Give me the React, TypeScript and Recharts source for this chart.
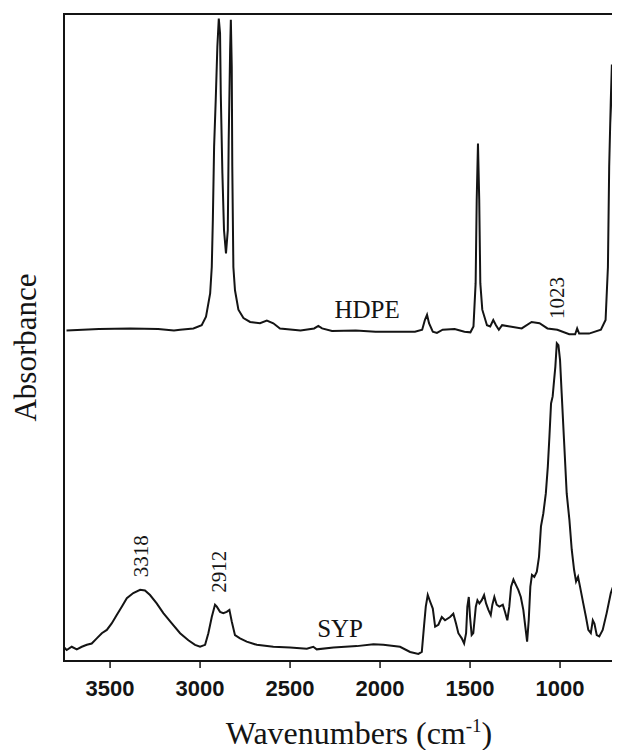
import {
  LineChart,
  Line,
  XAxis,
  YAxis,
  ReferenceArea,
  ReferenceDot,
} from "recharts";

// FTIR spectra, wavenumbers in cm-1, absorbance in arbitrary units (offset stacked)
const hdpeWn = [
  3742, 3562, 3387, 3233, 3145, 3111, 3037, 2991, 2967, 2944, 2935, 2929, 2922, 2913, 2904, 2896,
  2889, 2885, 2876, 2867, 2856, 2846, 2841, 2833, 2829, 2824, 2821, 2815, 2806, 2787, 2759, 2722,
  2667, 2629, 2593, 2556, 2442, 2366, 2343, 2322, 2267, 2135, 2025, 1915, 1806, 1766, 1751, 1739,
  1728, 1707, 1684, 1652, 1586, 1531, 1498, 1481, 1469, 1463, 1456, 1449, 1443, 1432, 1406, 1388,
  1371, 1356, 1340, 1322, 1278, 1213, 1158, 1114, 1070, 1015, 949, 916, 905, 894, 839, 773, 747,
  734, 727, 718, 712, 703, 696, 690,
];
const hdpeAbs = [
  51.1, 51.3, 51.4, 51.3, 51.1, 51.2, 51.4, 51.9, 53.2, 56.8, 60.9, 68.2, 79.5, 86.7, 94.9, 99.3,
  97.0, 87.7, 75.4, 66.6, 63.0, 66.6, 80.5, 94.4, 99.1, 91.9, 76.4, 60.9, 57.3, 54.3, 53.0, 52.4,
  52.2, 52.6, 52.2, 51.4, 51.1, 51.4, 51.8, 51.4, 51.0, 51.1, 50.9, 50.9, 50.9, 51.2, 52.7, 53.5,
  52.2, 50.9, 50.7, 51.2, 51.3, 50.9, 50.8, 51.7, 58.4, 71.3, 80.0, 71.3, 58.4, 54.3, 51.9, 51.7,
  52.7, 51.9, 51.2, 51.9, 51.7, 51.4, 52.4, 52.2, 51.4, 51.2, 50.5, 50.5, 51.4, 50.6, 50.6, 51.2,
  52.7, 60.9, 76.4, 86.7, 92.2, 79.0, 66.1, 54.9,
];

const sypWn = [
  3759, 3741, 3713, 3685, 3657, 3629, 3602, 3574, 3546, 3518, 3491, 3463, 3435, 3407, 3371, 3333,
  3306, 3278, 3241, 3204, 3157, 3111, 3065, 3028, 3000, 2972, 2954, 2935, 2917, 2907, 2889, 2871,
  2852, 2837, 2824, 2806, 2778, 2741, 2685, 2593, 2500, 2407, 2371, 2352, 2259, 2129, 2037, 1982,
  1889, 1833, 1787, 1768, 1756, 1746, 1735, 1722, 1707, 1694, 1676, 1657, 1639, 1611, 1593, 1578,
  1565, 1546, 1533, 1522, 1515, 1507, 1500, 1491, 1482, 1468, 1459, 1448, 1435, 1422, 1411, 1398,
  1385, 1376, 1365, 1352, 1337, 1318, 1306, 1293, 1282, 1272, 1259, 1244, 1232, 1218, 1204, 1193,
  1183, 1174, 1165, 1156, 1143, 1129, 1117, 1106, 1093, 1079, 1068, 1059, 1050, 1041, 1033, 1026,
  1018, 1009, 1000, 991, 978, 963, 948, 935, 922, 911, 900, 889, 871, 856, 843, 829, 818, 809, 796,
  782, 763, 741, 718, 707,
];
const sypAbs = [
  2.2, 1.7, 2.2, 1.8, 2.2, 2.5, 2.7, 3.5, 4.3, 4.8, 5.8, 7.1, 8.4, 9.7, 10.5, 11.0, 10.9, 10.2, 8.9,
  7.4, 5.8, 4.3, 3.2, 2.5, 2.2, 2.5, 4.3, 6.8, 8.7, 8.4, 7.6, 7.4, 7.6, 7.9, 6.1, 4.0, 3.5, 3.0, 2.5,
  2.2, 2.1, 1.9, 2.2, 1.8, 2.1, 2.3, 2.6, 2.5, 2.2, 1.4, 1.1, 1.4, 5.3, 8.4, 10.2, 9.2, 8.1, 5.3, 5.6,
  6.8, 6.3, 6.8, 7.3, 5.8, 4.3, 3.5, 2.7, 4.3, 8.4, 9.9, 6.8, 4.0, 4.3, 8.4, 9.4, 8.9, 9.4, 10.2, 8.9,
  7.9, 7.1, 8.7, 9.9, 8.7, 8.4, 8.7, 7.6, 6.3, 8.4, 11.5, 12.6, 11.7, 11.0, 9.9, 7.9, 5.3, 3.0, 6.3,
  11.5, 13.3, 13.0, 13.8, 16.1, 20.8, 22.8, 25.9, 30.0, 34.7, 39.8, 40.9, 43.4, 45.5, 49.1, 48.8,
  46.5, 41.4, 34.2, 25.9, 21.8, 17.2, 14.1, 12.3, 13.0, 11.5, 8.9, 6.8, 4.8, 4.3, 6.3, 5.8, 4.0, 3.8,
  4.8, 7.4, 10.5, 11.4,
];

const xTicks = [3500, 3000, 2500, 2000, 1500, 1000];

// peak / trace labels placed in data coordinates
const notes = [
  { text: "HDPE", wn: 2072, abs: 53.0, vertical: false },
  { text: "SYP", wn: 2222, abs: 3.7, vertical: false },
  { text: "3318", wn: 3328, abs: 16.2, vertical: true },
  { text: "2912", wn: 2897, abs: 13.8, vertical: true },
  { text: "1023", wn: 1019, abs: 56.1, vertical: true },
];

const hdpe = hdpeWn.map((wn, i) => ({ wn, abs: hdpeAbs[i] }));
const syp = sypWn.map((wn, i) => ({ wn, abs: sypAbs[i] }));

const ink = "#141414";
const serif = "'Liberation Serif', 'Times New Roman', serif";

function noteShape(n: { text: string; vertical: boolean }) {
  return (props: any) => {
    const { cx, cy } = props;
    if (n.vertical) {
      return (
        <text
          x={cx}
          y={cy}
          transform={`rotate(-90 ${cx} ${cy})`}
          textAnchor="middle"
          dominantBaseline="central"
          fontFamily={serif}
          fontSize={21}
          fill={ink}
        >
          {n.text}
        </text>
      );
    }
    return (
      <text x={cx} y={cy} textAnchor="middle" fontFamily={serif} fontSize={25} fill={ink}>
        {n.text}
      </text>
    );
  };
}

export default function App() {
  return (
    <LineChart
      width={612}
      height={742}
      margin={{ top: 6, right: 2, bottom: 0, left: 0 }}
      style={{ overflow: "visible" }}
    >
      <XAxis
        type="number"
        dataKey="wn"
        domain={[678, 3756]}
        reversed
        allowDataOverflow
        ticks={xTicks}
        height={89}
        tickSize={7}
        tickMargin={12}
        axisLine={{ stroke: ink, strokeWidth: 2 }}
        tickLine={{ stroke: ink, strokeWidth: 1.5 }}
        tick={{
          fill: ink,
          fontSize: 22,
          fontWeight: "bold",
          fontFamily: "'Liberation Sans', Arial, sans-serif",
        }}
        label={{
          content: ({ viewBox }: any) => (
            <text
              x={viewBox.x + viewBox.width / 2 + 18}
              y={viewBox.y + 83}
              textAnchor="middle"
              fontFamily={serif}
              fontSize={32}
              fill={ink}
            >
              Wavenumbers (cm
              <tspan fontSize={19} dy={-12}>
                -1
              </tspan>
              <tspan dy={12}>)</tspan>
            </text>
          ),
        }}
      />
      <YAxis
        type="number"
        domain={[0, 100]}
        allowDataOverflow
        width={56}
        tick={false}
        tickLine={false}
        axisLine={{ stroke: ink, strokeWidth: 2 }}
        label={{
          content: ({ viewBox }: any) => {
            const x = viewBox.x + 28;
            const y = viewBox.y + viewBox.height / 2 + 10;
            return (
              <text
                x={x}
                y={y}
                transform={`rotate(-90 ${x} ${y})`}
                textAnchor="middle"
                fontFamily={serif}
                fontSize={31}
                fill={ink}
              >
                Absorbance
              </text>
            );
          },
        }}
      />
      <ReferenceArea
        x1={678}
        x2={3756}
        y1={0}
        y2={100}
        fill="none"
        stroke={ink}
        strokeWidth={2}
      />
      <Line
        data={hdpe}
        dataKey="abs"
        type="linear"
        stroke={ink}
        strokeWidth={2}
        dot={false}
        isAnimationActive={false}
      />
      <Line
        data={syp}
        dataKey="abs"
        type="linear"
        stroke={ink}
        strokeWidth={2}
        dot={false}
        isAnimationActive={false}
      />
      {notes.map((n) => (
        <ReferenceDot
          key={n.text}
          x={n.wn}
          y={n.abs}
          r={1}
          shape={noteShape(n)}
        />
      ))}
    </LineChart>
  );
}
